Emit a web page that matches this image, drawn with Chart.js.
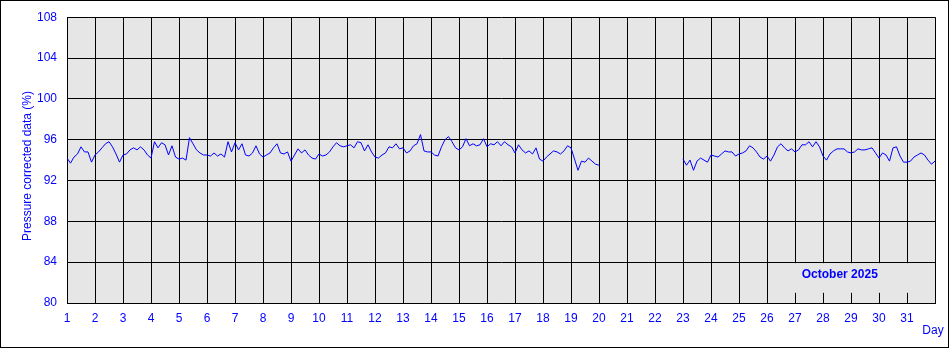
<!DOCTYPE html>
<html>
<head>
<meta charset="utf-8">
<script src="https://cdn.jsdelivr.net/npm/chart.js@4"></script>
<style>
  html, body { margin: 0; padding: 0; background: #fff; }
  canvas { display: block; }
</style>
</head>
<body>
<canvas id="chart" width="949" height="348"></canvas>
<script>
const dayTicks = [1, 2, 3, 4, 5, 6, 7, 8, 9, 10, 11, 12, 13, 14, 15, 16,
  17, 18, 19, 20, 21, 22, 23, 24, 25, 26, 27, 28, 29, 30, 31];
const pressureTicks = [80, 84, 88, 92, 96, 100, 104, 108];
const monthLabel = "October 2025";

// readings every 3 hours
const readingsPerDay = 8;

// 1 Oct 00:00 to 20 Oct 00:00
const firstStartDay = 1;
const firstReadings = [
  94.2, 93.7, 94.3, 94.6, 95.3, 94.8, 94.8, 93.8,
  94.5, 94.8, 95.2, 95.6, 95.8, 95.3, 94.6, 93.8,
  94.5, 94.6, 95.0, 95.2, 95.0, 95.3, 95.0, 94.5,
  94.2, 95.8, 95.2, 95.7, 95.5, 94.5, 95.4, 94.3,
  94.1, 94.2, 94.0, 96.2, 95.6, 95.0, 94.7, 94.5,
  94.5, 94.4, 94.7, 94.4, 94.6, 94.3, 95.8, 94.8,
  95.7, 95.0, 95.6, 94.5, 94.4, 94.7, 95.4, 94.6,
  94.3, 94.5, 94.7, 95.2, 95.6, 94.7, 94.6, 94.8,
  93.9, 94.5, 95.1, 94.7, 95.0, 94.5, 94.2, 94.1,
  94.6, 94.4, 94.5, 94.8, 95.3, 95.7, 95.4, 95.3,
  95.4, 95.5, 95.2, 95.8, 95.7, 94.9, 95.5, 94.8,
  94.3, 94.2, 94.5, 94.7, 95.3, 95.2, 95.6, 95.1,
  95.2, 94.7, 94.9, 95.4, 95.6, 96.5, 94.9, 94.8,
  94.8, 94.5, 94.4, 95.3, 96.0, 96.3, 95.8, 95.2,
  95.0, 95.3, 96.1, 95.4, 95.6, 95.4, 95.5, 96.1,
  95.3, 95.6, 95.5, 95.8, 95.4, 95.8, 95.5, 95.3,
  94.7, 95.5, 95.0, 94.7, 94.9, 94.6, 95.2, 94.1,
  93.9, 94.3, 94.6, 94.9, 94.8, 94.6, 94.9, 95.4,
  95.2, 94.1, 93.0, 93.9, 93.8, 94.2, 93.9, 93.6,
  93.5
];

// 23 Oct 00:00 to 1 Nov 00:00
const secondStartDay = 23;
const secondReadings = [
  94.1, 93.5, 94.0, 93.0, 93.9, 94.2, 94.0, 93.8,
  94.5, 94.4, 94.3, 94.6, 94.9, 94.8, 94.8, 94.4,
  94.6, 94.7, 94.9, 95.4, 95.2, 94.8, 94.3, 94.1,
  94.4, 93.9, 94.5, 95.3, 95.6, 95.2, 94.9, 95.1,
  94.8, 95.0, 95.5, 95.5, 95.8, 95.3, 95.8, 95.3,
  94.4, 94.0, 94.6, 94.9, 95.1, 95.1, 95.1, 94.8,
  94.7, 94.8, 95.1, 95.0, 95.0, 95.1, 95.2, 94.7,
  94.2, 94.7, 94.5, 93.9, 95.2, 95.3, 94.4, 93.8,
  93.8, 93.9, 94.3, 94.5, 94.7, 94.5, 94.0, 93.6,
  93.9
];

const blue = "#0000ff";
const fontFamily = "Arial, 'Liberation Sans', sans-serif";

function toPoints(start, values) {
  return values.map((v, i) => ({ x: start + i / readingsPerDay, y: v }));
}

const points = toPoints(firstStartDay, firstReadings)
  .concat([{ x: 21.5, y: null }])
  .concat(toPoints(secondStartDay, secondReadings));

const frame = {
  id: "frame",
  beforeDraw(chart) {
    const { ctx, chartArea: a, width, height } = chart;
    ctx.save();
    ctx.fillStyle = "#fff";
    ctx.fillRect(0, 0, width, height);
    ctx.fillStyle = "#e6e6e6";
    ctx.fillRect(a.left, a.top, a.right - a.left, a.bottom - a.top);
    ctx.restore();
  },
  beforeDatasetsDraw(chart) {
    const { ctx, scales: { x, y } } = chart;
    // month box hides the grid behind the label
    const x0 = x.getPixelForValue(26) + 1, x1 = x.getPixelForValue(32) - 1;
    const y0 = y.getPixelForValue(84) + 1, y1 = y.getPixelForValue(81);
    ctx.save();
    ctx.fillStyle = "#e6e6e6";
    ctx.fillRect(x0, y0, x1 - x0, y1 - y0);
    ctx.fillStyle = blue;
    ctx.font = "bold 12px " + fontFamily;
    ctx.textAlign = "center";
    ctx.textBaseline = "middle";
    ctx.fillText(monthLabel, x.getPixelForValue(28.6), y.getPixelForValue(82.8));
    ctx.restore();
  },
  afterDraw(chart) {
    const { ctx, width, height } = chart;
    ctx.save();
    ctx.fillStyle = blue;
    ctx.font = "12px " + fontFamily;
    ctx.textAlign = "center";
    ctx.textBaseline = "middle";
    ctx.fillText("Day", 933, 331);
    ctx.translate(28, 166);
    ctx.rotate(-Math.PI / 2);
    ctx.fillText("Pressure corrected data (%)", 0, 0);
    ctx.restore();
    ctx.save();
    ctx.strokeStyle = "#000";
    ctx.lineWidth = 1;
    ctx.strokeRect(0.5, 0.5, width - 1, height - 1);
    ctx.restore();
  }
};

new Chart(document.getElementById("chart"), {
  type: "line",
  data: {
    datasets: [{
      data: points,
      borderColor: blue,
      borderWidth: 1,
      pointRadius: 0,
      tension: 0,
      spanGaps: false
    }]
  },
  options: {
    responsive: false,
    animation: false,
    layout: { padding: { left: 0, right: 14, top: 15, bottom: 0 } },
    plugins: { legend: { display: false }, tooltip: { enabled: false } },
    scales: {
      x: {
        type: "linear",
        min: 1,
        max: 32,
        afterFit: s => { s.height = 45; },
        afterBuildTicks: s => { s.ticks = dayTicks.concat([32]).map(v => ({ value: v })); },
        grid: { color: "#000", lineWidth: 1, drawTicks: false },
        border: { color: "#000" },
        ticks: {
          color: blue, font: { family: fontFamily, size: 12 }, padding: 8,
          maxRotation: 0, autoSkip: false,
          callback: v => (v <= 31 ? v : "")
        }
      },
      y: {
        min: 80,
        max: 108,
        afterFit: s => { s.width = 67; },
        afterBuildTicks: s => { s.ticks = pressureTicks.map(v => ({ value: v })); },
        grid: { color: "#000", lineWidth: 1, drawTicks: false },
        border: { color: "#000" },
        ticks: { color: blue, font: { family: fontFamily, size: 12 }, padding: 10 }
      }
    }
  },
  plugins: [frame]
});
</script>
</body>
</html>
